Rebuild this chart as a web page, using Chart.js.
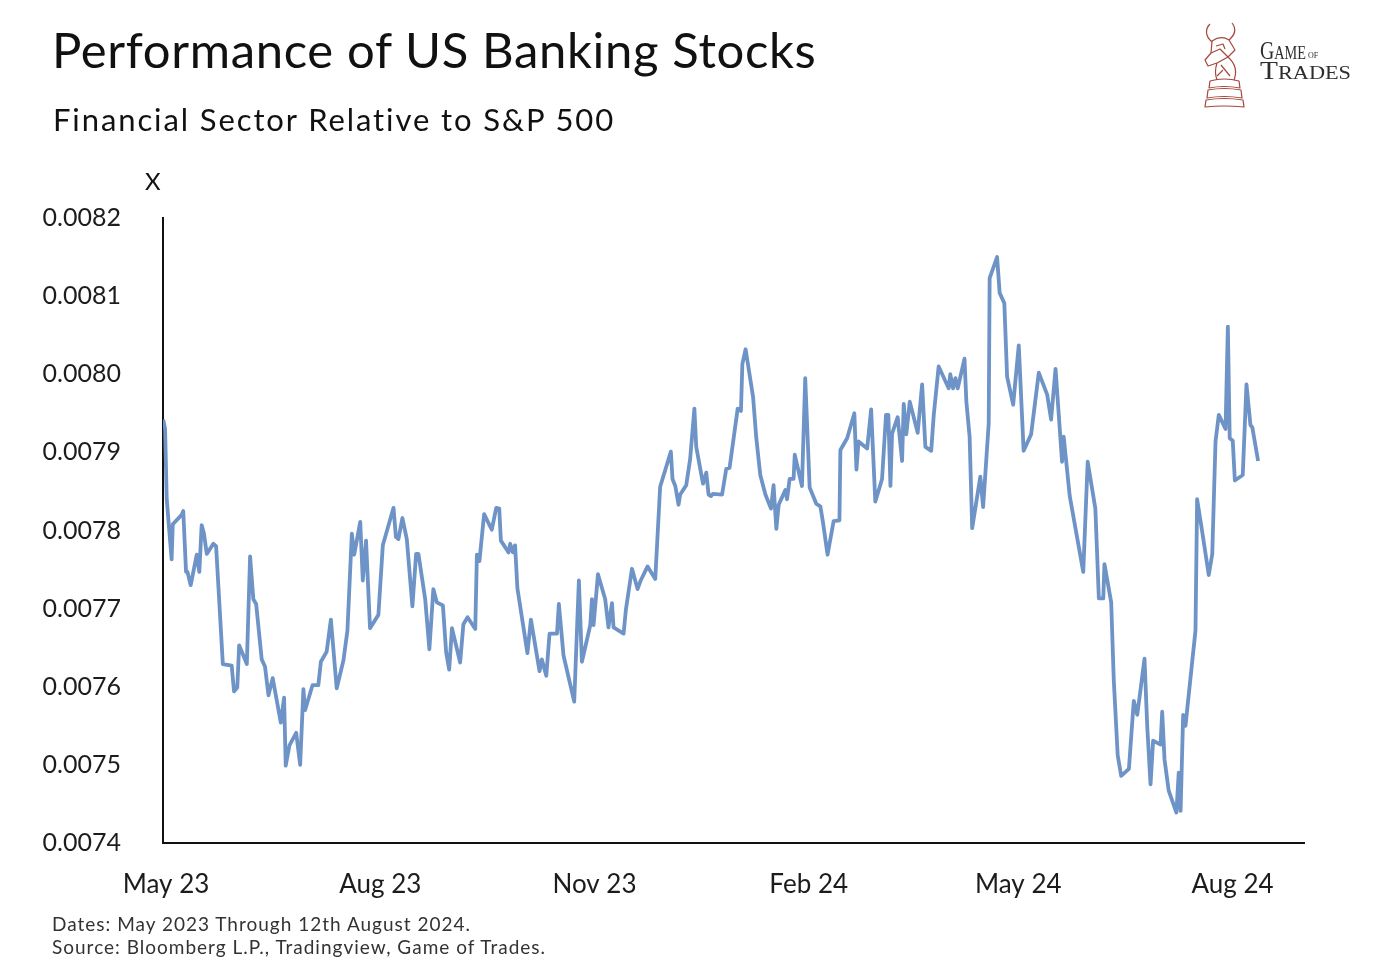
<!DOCTYPE html>
<html>
<head>
<meta charset="utf-8">
<script src="https://cdn.jsdelivr.net/npm/chart.js@4.4.1/dist/chart.umd.min.js"></script>
<style>
  html, body { margin: 0; padding: 0; background: #fff; }
  #wrap { position: relative; width: 1386px; height: 980px; overflow: hidden; font-family: Lato, "Open Sans", sans-serif; color: #111; }
  #chart { position: absolute; left: 0; top: 0; }
  .txt { position: absolute; white-space: nowrap; }
  #title { left: 52px; top: 25px; font-size: 49px; line-height: 48px; letter-spacing: 0.65px; }
  #subtitle { left: 53px; top: 104px; font-size: 31px; line-height: 30px; letter-spacing: 1.9px; }
  #yunit { left: 145px; top: 169px; font-size: 24px; line-height: 24px; }
  #notes { left: 52px; top: 912px; font-size: 19px; line-height: 23px; color: #333; letter-spacing: 1px; }
  #logo { position: absolute; left: 1195px; top: 20px; }
</style>
</head>
<body>
<div id="wrap">
  <canvas id="chart" width="1386" height="980"></canvas>
  <div class="txt" id="title">Performance of US Banking Stocks</div>
  <div class="txt" id="subtitle">Financial Sector Relative to S&amp;P 500</div>
  <div class="txt" id="yunit">X</div>
  <div class="txt" id="notes">Dates: May 2023 Through 12th August 2024.<br>Source: Bloomberg L.P., Tradingview, Game of Trades.</div>
  <svg id="logo" width="170" height="92" viewBox="0 0 170 92">
    <g fill="none" stroke="#a4483d" stroke-width="1.2" stroke-linejoin="round">
      <path d="M17,22 C10,16 10,9 15,4" />
      <path d="M34,20 C41,14 41,8 37,3" />
      <path d="M17,21 Q26,15 34,20 L40,30 L33,37 L22,43 L13,46 L10,40 L16,33 Z" />
      <path d="M16,33 L25,29 L33,37" />
      <path d="M21,26 L28,24 L30,29" />
      <path d="M33,37 Q44,47 39,60" />
      <path d="M22,43 Q19,52 22,60" />
      <path d="M26,45 L35,56 M28,50 L22,56" />
      <path d="M15,61 Q29,57 44,61 L45,68 Q29,65 14,68 Z" />
      <path d="M13,70 Q29,67 46,70 L47,78 Q29,75 12,78 Z" />
      <path d="M11,80 Q29,77 48,80 L49,87 Q29,85 10,87 Z" />
    </g>
    <text x="65" y="39" font-family="'Liberation Serif', 'DejaVu Serif', serif" fill="#2e2e2e" textLength="46" lengthAdjust="spacingAndGlyphs"><tspan font-size="25">G</tspan><tspan font-size="18">AME</tspan></text>
    <text x="113" y="38" font-family="'Liberation Serif', serif" font-size="8" fill="#2e2e2e">OF</text>
    <text x="65" y="59" font-family="'Liberation Serif', 'DejaVu Serif', serif" fill="#2e2e2e" textLength="91" lengthAdjust="spacingAndGlyphs"><tspan font-size="25">T</tspan><tspan font-size="19">RADES</tspan></text>
  </svg>
</div>
<script>
// days since 1 May 2023
const days = [-1.2,-0.4,0.3,2.4,2.9,6.7,7.4,8.6,9.2,10.6,
  13.2,14.3,15.3,16.3,17.5,20.3,21.5,24.4,28.2,29.2,
  30.6,31.4,34.7,36.1,37.5,38.7,41.1,42.5,44.0,45.8,
  49.3,50.7,51.4,53.0,55.9,57.6,59.0,59.7,62.9,65.4,
  66.5,69.0,70.8,73.3,76.2,77.9,79.8,80.8,83.4,84.5,
  85.9,87.6,91.2,93.1,97.7,98.7,99.8,101.5,103.4,105.8,
  107.4,108.4,111.3,113.1,114.8,116.3,118.9,120.3,121.6,122.8,
  126.3,127.7,129.5,132.8,133.5,134.6,136.6,139.9,141.8,143.1,
  143.8,147.1,147.8,149.0,149.9,150.9,155.2,156.7,160.4,161.4,
  163.3,164.7,167.9,168.7,170.7,175.3,177.3,178.6,182.2,182.9,
  183.6,185.5,188.6,190.0,191.5,192.2,196.5,197.5,200.1,202.5,
  203.7,206.8,210.1,212.2,216.8,217.5,218.7,220.1,220.8,223.4,
  225.1,226.9,227.7,230.6,232.0,233.0,234.0,234.9,238.8,240.6,
  242.0,245.5,246.9,247.5,248.9,252.1,253.5,255.2,257.4,259.8,
  260.9,262.1,263.1,266.0,266.7,267.8,269.5,270.0,273.1,274.5,
  276.4,279.3,281.0,282.1,284.1,286.7,289.2,289.6,292.5,295.6,
  296.5,297.4,301.1,302.8,304.6,307.5,309.2,310.2,311.1,311.8,
  314.2,316.1,316.8,317.9,319.4,322.8,324.7,326.1,328.6,329.7,
  331.8,336.1,336.8,338.0,339.0,340.0,342.9,343.7,345.1,346.2,
  349.7,350.9,353.3,353.7,356.9,358.0,360.0,361.2,363.8,366.2,
  368.3,371.5,374.8,378.4,380.1,382.0,384.8,385.5,388.1,393.9,
  395.8,399.1,400.6,402.5,403.0,405.9,407.0,408.7,410.2,413.5,
  415.6,417.1,420.2,421.4,422.8,423.9,427.1,427.8,428.8,430.6,
  433.9,434.9,435.7,436.8,437.8,442.1,442.8,445.0,447.8,449.3,
  450.7,452.1,455.0,456.0,456.8,458.1,459.0,462.4,464.0,465.7,
  466.5,469.0];

// financial sector / S&P 500 ratio
const ratio = [0.007942,0.007930,0.007840,0.007763,0.007808,0.007820,0.007825,0.007747,0.007747,0.007730,
  0.007769,0.007747,0.007807,0.007796,0.007770,0.007783,0.007780,0.007629,0.007627,0.007594,
  0.007599,0.007653,0.007629,0.007767,0.007712,0.007706,0.007635,0.007626,0.007589,0.007611,
  0.007554,0.007586,0.007499,0.007525,0.007541,0.007500,0.007597,0.007570,0.007602,0.007602,
  0.007632,0.007645,0.007686,0.007598,0.007634,0.007672,0.007796,0.007769,0.007811,0.007736,
  0.007787,0.007675,0.007692,0.007781,0.007829,0.007792,0.007789,0.007816,0.007789,0.007703,
  0.007770,0.007770,0.007712,0.007648,0.007725,0.007708,0.007704,0.007644,0.007622,0.007675,
  0.007631,0.007680,0.007689,0.007674,0.007769,0.007761,0.007821,0.007801,0.007829,0.007828,
  0.007787,0.007772,0.007783,0.007772,0.007781,0.007726,0.007643,0.007686,0.007620,0.007635,
  0.007614,0.007668,0.007668,0.007706,0.007640,0.007581,0.007736,0.007632,0.007679,0.007712,
  0.007679,0.007744,0.007712,0.007676,0.007707,0.007676,0.007668,0.007699,0.007751,0.007725,
  0.007735,0.007754,0.007738,0.007856,0.007901,0.007866,0.007857,0.007833,0.007846,0.007858,
  0.007892,0.007956,0.007907,0.007860,0.007874,0.007846,0.007844,0.007847,0.007846,0.007879,
  0.007880,0.007956,0.007953,0.008013,0.008032,0.007971,0.007918,0.007871,0.007846,0.007828,
  0.007858,0.007802,0.007833,0.007852,0.007840,0.007866,0.007866,0.007897,0.007857,0.007995,
  0.007855,0.007834,0.007831,0.007811,0.007769,0.007812,0.007813,0.007903,0.007918,0.007950,
  0.007878,0.007914,0.007905,0.007955,0.007837,0.007866,0.007948,0.007948,0.007857,0.007924,
  0.007945,0.007889,0.007962,0.007923,0.007965,0.007925,0.007987,0.007907,0.007902,0.007948,
  0.008010,0.007982,0.008000,0.007982,0.007995,0.007982,0.008020,0.007965,0.007920,0.007803,
  0.007869,0.007830,0.007937,0.008123,0.008150,0.008104,0.008091,0.007997,0.007961,0.008037,
  0.007902,0.007923,0.008002,0.007974,0.007942,0.008007,0.007888,0.007920,0.007844,0.007747,
  0.007888,0.007828,0.007713,0.007713,0.007757,0.007708,0.007609,0.007512,0.007486,0.007495,
  0.007582,0.007564,0.007636,0.007548,0.007475,0.007531,0.007526,0.007568,0.007507,0.007467,
  0.007439,0.007490,0.007441,0.007564,0.007550,0.007672,0.007840,0.007798,0.007743,0.007770,
  0.007914,0.007948,0.007930,0.008061,0.007918,0.007915,0.007864,0.007871,0.007987,0.007935,
  0.007932,0.007889];

const xTickDays = [0, 92, 184, 276, 366, 458];
const xTickLabels = ['May 23', 'Aug 23', 'Nov 23', 'Feb 24', 'May 24', 'Aug 24'];
const yTicks = [0.0074, 0.0075, 0.0076, 0.0077, 0.0078, 0.0079, 0.0080, 0.0081, 0.0082];

Chart.defaults.font.family = 'Lato, "Open Sans", sans-serif';
Chart.defaults.color = '#1c1c1c';

const points = days.map((d, i) => ({ x: d, y: ratio[i] }));

new Chart(document.getElementById('chart'), {
  type: 'line',
  data: {
    datasets: [{
      data: points,
      borderColor: '#6e93c6',
      borderWidth: 3.8,
      borderJoinStyle: 'round',
      pointRadius: 0,
      tension: 0,
      fill: false
    }]
  },
  options: {
    responsive: false,
    animation: false,
    layout: { padding: { left: 0, top: 218, right: 82, bottom: 0 } },
    plugins: { legend: { display: false }, tooltip: { enabled: false } },
    scales: {
      x: {
        type: 'linear',
        min: -1.3,
        max: 488.7,
        grid: { display: false, drawTicks: false },
        border: { display: true, color: '#111', width: 2 },
        afterBuildTicks: (scale) => { scale.ticks = xTickDays.map(v => ({ value: v })); },
        afterFit: (scale) => { scale.height = 137; },
        ticks: {
          autoSkip: false,
          maxRotation: 0,
          padding: 26,
          font: { size: 26 },
          callback: (value, index) => xTickLabels[index]
        }
      },
      y: {
        min: 0.0074,
        max: 0.0082,
        grid: { display: false, drawTicks: false },
        border: { display: true, color: '#111', width: 2 },
        afterBuildTicks: (scale) => { scale.ticks = yTicks.map(v => ({ value: v })); },
        afterFit: (scale) => { scale.width = 163; },
        ticks: {
          padding: 42,
          font: { size: 25 },
          callback: (value) => Number(value).toFixed(4)
        }
      }
    }
  }
});
</script>
</body>
</html>
